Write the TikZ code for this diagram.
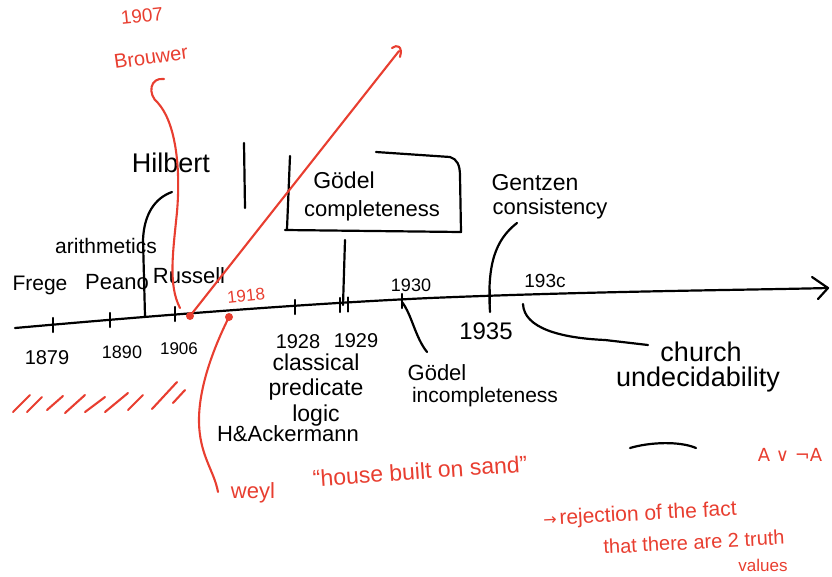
\documentclass[tikz,border=0pt]{standalone}
\usepackage{fontspec}
\setmainfont{Liberation Sans}
\newfontfamily\symfont{DejaVu Sans}
\definecolor{pen}{RGB}{232,62,48}
\tikzset{
  ink/.style={draw=black, line width=2.2pt, line cap=round, line join=round},
  redink/.style={draw=pen, line width=2.1pt, line cap=round, line join=round},
  lbl/.style={inner sep=0pt, text=black},
  rlbl/.style={inner sep=0pt, text=pen},
}
\newcommand{\fs}[1]{\fontsize{#1}{#1}\selectfont}
\begin{document}
\begin{tikzpicture}[x=1pt,y=-1pt]
\useasboundingbox (0,0) rectangle (832,576);

% ---------- axis ----------
\coordinate (axL) at (15,328);
\coordinate (axR) at (828,288);
\draw[ink] (axL) .. controls (150,316) and (300,304) .. (430,298)
           .. controls (600,291) and (750,290) .. (axR);
\draw[ink] (812,277) -- (axR) -- (818,299);

% ticks
\foreach \x/\y in {53/325, 110/320, 175/314, 295/307, 340/305, 348/304.5, 402/301, 490/297}
  \draw[ink] (\x,\y-7) -- (\x,\y+7);

% ---------- labels above axis ----------
\node[lbl] (frege) at (40,285) {\fs{21}Frege};
\node[lbl] (peano) at (117,282) {\fs{22}Peano};
\node[lbl] (russell) at (189,276) {\fs{22}Russell};
\node[lbl] (arith) at (106,246) {\fs{21}arithmetics};
\node[lbl] (hilbert) at (171,163) {\fs{27}Hilbert};
\node[lbl] (y1930) at (411,285) {\fs{18}1930};
\node[lbl] (y193c) at (545,281) {\fs{19}193c};

% bracket to Hilbert
\coordinate (brb) at (145,316);
\coordinate (brt) at (172,192);
\draw[ink] (brb) -- (143,240) .. controls (144,214) and (155,198) .. (brt);
% vertical stroke
\coordinate (v1) at (244,143);
\coordinate (v2) at (245,208);
\draw[ink] (v1) -- (v2);

% Goedel completeness box
\node[lbl] (gc1) at (344,180) {\fs{23}Gödel};
\node[lbl] (gc2) at (372,211) {\fs{22}completeness};
\draw[ink] (376,152) -- (450,157) .. controls (457,159) and (460,165) .. (460,176)
           -- (461,232) -- (285,230);
\draw[ink] (290,156) -- (287,229);
\coordinate (gcb) at (345,240);
\coordinate (gct) at (343,305);
\draw[ink] (gcb) -- (gct);

% Gentzen
\node[lbl] (gen1) at (535,183) {\fs{23}Gentzen};
\node[lbl] (gen2) at (550,209) {\fs{22}consistency};
\coordinate (gent) at (517,223);
\coordinate (genb) at (490,312);
\draw[ink] (gent) .. controls (495,240) and (487,265) .. (genb);

% ---------- labels below axis ----------
\node[lbl] (y1879) at (47,358) {\fs{20}1879};
\node[lbl] (y1890) at (122,352) {\fs{18}1890};
\node[lbl] (y1906) at (179,349) {\fs{17}1906};
\node[lbl] (y1928) at (298,342) {\fs{20}1928};
\node[lbl] (y1929) at (356,341) {\fs{20}1929};
\node[lbl] (y1935) at (486,331) {\fs{24}1935};

\node[lbl, align=center, font={\fontsize{23}{25.5}\selectfont}] (cl) at (316,390)
  {classical\\predicate\\logic};
\node[lbl] (cl4) at (288,434) {\fs{22}H\&Ackermann};

\node[lbl] (gi1) at (437,373) {\fs{22}Gödel};
\node[lbl] (gi2) at (485,397) {\fs{21}incompleteness};
\coordinate (git) at (402,302);
\coordinate (gib) at (427,352);
\draw[ink] (git) .. controls (412,315) and (415,337) .. (gib);

\node[lbl] (ch1) at (701,352) {\fs{27}church};
\node[lbl] (ch2) at (698,380) {\fs{27}undecidability};
\coordinate (cht) at (523,304);
\coordinate (chb) at (648,345);
\draw[ink] (cht) .. controls (524,328) and (560,338) .. (605,340) -- (chb);

\coordinate (arcL) at (630,448);
\coordinate (arcR) at (696,448);
\draw[ink] (arcL) .. controls (650,442) and (680,441) .. (arcR);

% ---------- red annotations ----------
\node[rlbl, rotate=6] (b1) at (142,16) {\fs{19}1907};
\node[rlbl, rotate=8] (b2) at (151,57) {\fs{20}Brouwer};
\coordinate (bt) at (164,79);
\coordinate (bb) at (180,308);
\draw[redink] (bt) .. controls (150,77) and (147,94) .. (158,103)
  .. controls (175,122) and (181,165) .. (177,212)
  .. controls (173,252) and (168,285) .. (bb);

\coordinate (d1) at (190,316);
\fill[pen] (d1) circle (4);
\coordinate (atip) at (399,51);
\draw[redink] (d1) -- (atip);
\draw[redink] (392,48) .. controls (397,44) and (403,46) .. (400,57);

\node[rlbl, rotate=6] (y1918) at (246,296) {\fs{17}1918};
\coordinate (d2) at (229,317);
\fill[pen] (d2) circle (4);
\coordinate (wb) at (218,492);
\draw[redink] (d2) .. controls (215,345) and (199,385) .. (199,420)
  .. controls (199,455) and (214,470) .. (wb);

\node[rlbl] (weyl) at (253,493) {\fs{22}weyl};
\node[rlbl, rotate=4] (sand) at (420,471) {\fs{23}“house built on sand”};

% hatching
\foreach \a/\b/\c/\d in {13/412/30/395, 27/412/42/397, 47/410/63/396, 65/413/85/395,
  85/412/105/397, 105/412/128/393, 128/410/143/395, 152/409/177/382, 173/403/185/390}
  \draw[redink] (\a,\b) -- (\c,\d);

\node[rlbl] (lem) at (790,455) {\symfont\fs{18}A ∨ ¬A};
\node[rlbl, rotate=3] (rj1) at (640,515) {{\symfont\fs{16}→} \fs{21}rejection of the fact};
\node[rlbl, rotate=3] (rj2) at (694,542) {\fs{20}that there are 2 truth};
\node[rlbl] (rj3) at (763,565) {\fs{17}values};
\end{tikzpicture}
\end{document}
